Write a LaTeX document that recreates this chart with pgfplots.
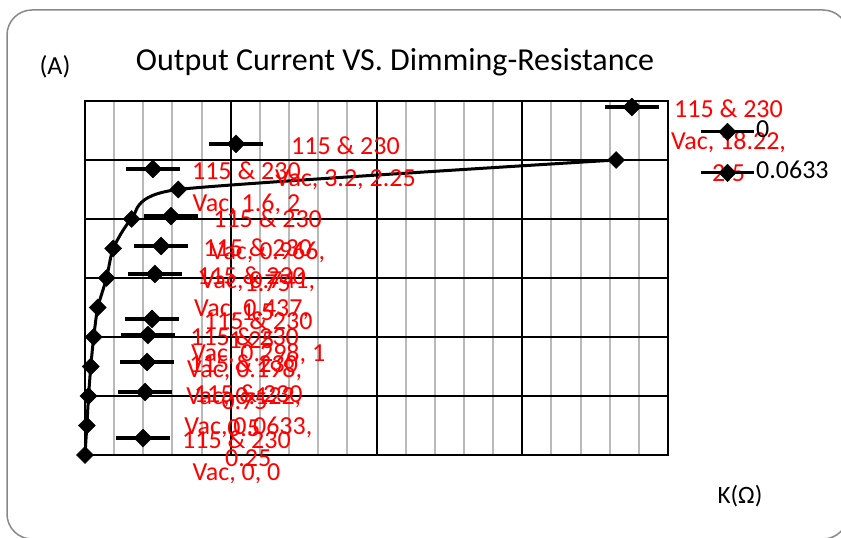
\documentclass[border=0pt]{standalone}
\usepackage{pgfplots}
\pgfplotsset{compat=1.18}
\usepackage{fontspec}
\setmainfont{Carlito}
\definecolor{gridgray}{RGB}{185,185,185}
\definecolor{framegray}{RGB}{136,136,136}
\begin{document}
\begin{tikzpicture}[x=1pt,y=1pt]
\useasboundingbox (0,0) rectangle (841,538);
\draw[framegray, line width=1.5pt, rounded corners=25pt] (7,-1) rectangle (848,528);
\node[font=\fontsize{32}{38}\selectfont] at (395,476) {Output Current VS. Dimming-Resistance};
\node[font=\fontsize{26}{30}\selectfont] at (55,471) {(A)};
\node[font=\fontsize{25}{30}\selectfont] at (740,42) {K(Ω)};
\begin{axis}[
  at={(85pt,83pt)}, anchor=south west,
  scale only axis, width=583pt, height=354pt,
  xmin=0, xmax=20, ymin=0, ymax=3,
  xtick={0,5,...,20}, ytick={0,0.5,...,3},
  minor x tick num=4,
  xticklabels={}, yticklabels={},
  major tick length=0pt, minor tick length=0pt,
  xmajorgrids, ymajorgrids, xminorgrids,
  major grid style={black, line width=2pt},
  minor grid style={gridgray, line width=2pt},
  axis line style={black, line width=2pt},
  clip=false,
  legend style={at={(1.054,0.944)}, anchor=north west, draw=none, fill=none,
    inner sep=0pt, outer sep=0pt, row sep=19pt,
    font=\fontsize{26}{31}\selectfont,
    nodes={inner sep=0pt, text height=17pt, text depth=5pt, anchor=west}},
  legend cell align=left,
  legend image code/.code={
    \draw[black, line width=3pt] (0pt,0pt) -- (53pt,0pt);
    \draw[black, mark=square*, mark size=6.2pt, mark options={rotate=45, fill=black}] plot coordinates {(26.5pt,0pt)};
    \path (55pt,0pt);
  },
]
\addlegendimage{black}
\addlegendentry{0}
\addlegendimage{black}
\addlegendentry{0.0633}
% main curve
\addplot[forget plot, black, line width=3pt, smooth, tension=0.35, mark=square*, mark size=6pt,
  mark options={rotate=45, fill=black, line width=0.5pt}] coordinates {
(0,0) (0.0633,0.25) (0.122,0.5) (0.198,0.75) (0.298,1) (0.437,1.25)
(0.741,1.5) (0.966,1.75) (1.6,2) (3.2,2.25) (18.22,2.5)
};
% data label keys
\addplot[forget plot, only marks, black, mark=square*, mark size=6.3pt,
  mark options={rotate=45, fill=black, line width=0.5pt},
  error bars/.cd, x dir=both, x explicit,
  error mark=none, error bar style={line width=3.3pt, black}] coordinates {
(18.76,2.949) +- (0.926,0)
(5.18,2.636) +- (0.926,0)
(2.33,2.424) +- (0.926,0)
(2.95,2.025) +- (0.926,0)
(2.61,1.771) +- (0.926,0)
(2.40,1.534) +- (0.926,0)
(2.30,1.153) +- (0.926,0)
(2.16,1.017) +- (0.926,0)
(2.13,0.788) +- (0.926,0)
(2.06,0.534) +- (0.926,0)
(1.99,0.144) +- (0.926,0)
};
% data label texts
\addplot[forget plot, draw=none, mark=none, point meta=explicit symbolic,
  nodes near coords,
  every node near coord/.append style={red, anchor=north west, align=center,
    inner sep=0pt, xshift=39pt, yshift=7pt, font=\fontsize{26}{32}\selectfont}] coordinates {
(18.76,2.949) [{115 \& 230\\Vac, 18.22,\\2.5}]
(5.18,2.636) [{115 \& 230\\Vac, 3.2, 2.25}]
(2.33,2.424) [{115 \& 230\\Vac, 1.6, 2}]
(2.95,2.025) [{115 \& 230\\Vac, 0.966,\\1.75}]
(2.61,1.771) [{115 \& 230\\Vac, 0.741,\\1.5}]
(2.40,1.534) [{115 \& 230\\Vac, 0.437,\\1.25}]
(2.30,1.153) [{115 \& 230\\Vac, 0.298, 1}]
(2.16,1.017) [{115 \& 230\\Vac, 0.198,\\0.75}]
(2.13,0.788) [{115 \& 230\\Vac, 0.122,\\0.5}]
(2.06,0.534) [{115 \& 230\\Vac, 0.0633,\\0.25}]
(1.99,0.144) [{115 \& 230\\Vac, 0, 0}]
};
\end{axis}
\end{tikzpicture}
\end{document}
